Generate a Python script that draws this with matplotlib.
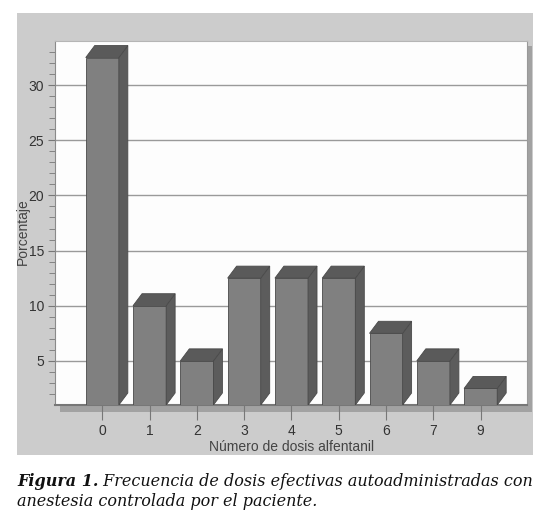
import matplotlib
matplotlib.use("Agg")
import matplotlib.pyplot as plt
from matplotlib.patches import Rectangle, Polygon
import numpy as np

categories = ["0", "1", "2", "3", "4", "5", "6", "7", "9"]
values = [32.5, 10, 5, 12.5, 12.5, 12.5, 7.5, 5, 2.5]
y_ticks = [5, 10, 15, 20, 25, 30]
y_label = "Porcentaje"
x_label = "Número de dosis alfentanil"
cap_bold = "Figura 1."
cap_line1 = " Frecuencia de dosis efectivas autoadministradas con"
cap_line2 = "anestesia controlada por el paciente."

W, H = 550, 520
fig = plt.figure(figsize=(W / 100, H / 100), dpi=100)
fig.patch.set_facecolor("white")

def fx(px):
    return px / W

def fy(py):
    return 1 - py / H

# grey panel
fig.add_artist(Rectangle((fx(17), fy(455)), fx(533) - fx(17), fy(13) - fy(455),
                         transform=fig.transFigure, facecolor="#cccccc",
                         edgecolor="none", zorder=-3))
# shadow of the plot area
fig.add_artist(Rectangle((fx(527), fy(412)), fx(532) - fx(527), fy(46) - fy(412),
                         transform=fig.transFigure, facecolor="#a2a2a2",
                         edgecolor="none", zorder=-2))
fig.add_artist(Rectangle((fx(60), fy(412)), fx(532) - fx(60), fy(405) - fy(412),
                         transform=fig.transFigure, facecolor="#a2a2a2",
                         edgecolor="none", zorder=-2))

ax = fig.add_axes([fx(55), fy(405), fx(527) - fx(55), fy(41) - fy(405)])
ax.set_zorder(2)
ax.set_facecolor("#fdfdfd")

x = np.arange(len(categories))
width = 0.7
dx = 0.19
dy = 1.09
floor = 1

ax.set_xlim(-1.0, 8.98)
ax.set_ylim(floor, 34)

for yt in y_ticks:
    ax.axhline(yt, color="#9a9a9a", lw=1.0, zorder=1)

front = "#808080"
side = "#5c5c5c"
top = "#5a5a5a"
edge = "#4a4a4a"
for xi, v in zip(x, values):
    x0 = xi - width / 2
    x1 = xi + width / 2
    ax.add_patch(Rectangle((x0, floor), width, v - floor, facecolor=front,
                           edgecolor=edge, lw=0.6, zorder=3))
    ax.add_patch(Polygon([(x1, floor), (x1 + dx, floor + dy), (x1 + dx, v + dy), (x1, v)],
                         closed=True, facecolor=side, edgecolor=edge, lw=0.6, zorder=3))
    ax.add_patch(Polygon([(x0, v), (x1, v), (x1 + dx, v + dy), (x0 + dx, v + dy)],
                         closed=True, facecolor=top, edgecolor=edge, lw=0.6, zorder=3))

font = ["Liberation Sans", "DejaVu Sans"]
ax.set_xticks(x)
ax.set_xticklabels(categories, fontsize=10, color="#333333", family=font)
ax.set_yticks(y_ticks)
ax.set_yticklabels([str(v) for v in y_ticks], fontsize=10, color="#333333", family=font)
ax.set_yticks(np.arange(2, 34, 1), minor=True)
ax.tick_params(axis="y", which="major", length=5, color="#777777", pad=3)
ax.tick_params(axis="y", which="minor", length=4, color="#777777")
ax.tick_params(axis="x", which="major", length=11, color="#777777", pad=3)

ax.spines["left"].set_color("#8a8a8a")
ax.spines["bottom"].set_color("#777777")
ax.spines["bottom"].set_linewidth(1.5)
ax.spines["top"].set_color("#b5b5b5")
ax.spines["right"].set_color("#999999")

fig.text(fx(23), fy(232), y_label, rotation=90, ha="center", va="center",
         fontsize=10, color="#444444", family=font)
fig.text(fx(292), fy(447), x_label, ha="center", va="center",
         fontsize=10, color="#444444", family=font)

t1 = fig.text(fx(17), fy(482), cap_bold, ha="left", va="center", fontsize=11.5,
              family="DejaVu Serif", style="italic", weight="bold", color="#111111")
fig.canvas.draw()
bb = t1.get_window_extent()
fig.text(bb.x1 / fig.dpi / fig.get_figwidth(), fy(482), cap_line1, ha="left", va="center",
         fontsize=11.5, family="DejaVu Serif", style="italic", color="#111111")
fig.text(fx(17), fy(502), cap_line2, ha="left", va="center", fontsize=11.5,
         family="DejaVu Serif", style="italic", color="#111111")

fig.savefig("out.png", dpi=100)
